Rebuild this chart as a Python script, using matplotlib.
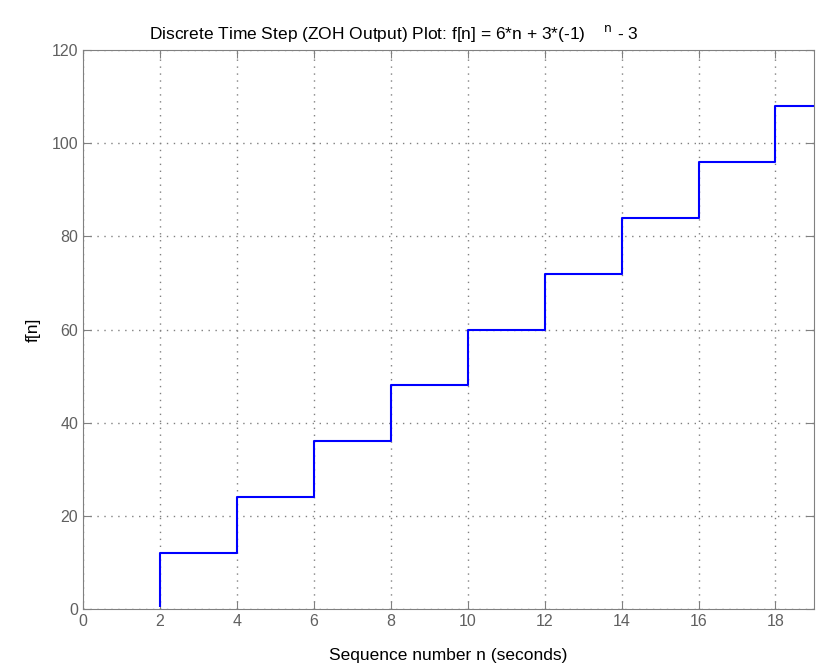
import matplotlib
matplotlib.use("Agg")
import matplotlib.pyplot as plt
from matplotlib.transforms import Bbox, TransformedBbox

# sequence index and f[n] = 6n + 3(-1)^n - 3 values
n = [1, 2, 3, 4, 5, 6, 7, 8, 9, 10, 11, 12, 13, 14, 15, 16, 17, 18, 19]
f = [0, 12, 12, 24, 24, 36, 36, 48, 48, 60, 60, 72, 72, 84, 84, 96, 96, 108, 108]
xticks = [0, 2, 4, 6, 8, 10, 12, 14, 16, 18]
yticks = [0, 20, 40, 60, 80, 100, 120]


def main():
    plt.rcParams['font.family'] = ['Liberation Sans', 'DejaVu Sans']
    fig = plt.figure(figsize=(8.16, 6.65), dpi=100)
    ax = fig.add_axes([0.1017, 0.0842, 0.8958, 0.8406])

    line, = ax.step(n, f, where='post', color='#0000ff', linewidth=1.5)
    # axis line hides the zero-level part of the stairs, as in the original
    line.set_clip_box(TransformedBbox(Bbox([[0, 0.003], [1, 1]]), ax.transAxes))

    ax.set_xlim(0, 19)
    ax.set_ylim(0, 120)
    ax.set_xticks(xticks)
    ax.set_yticks(yticks)
    ax.grid(True, linestyle=(0, (1, 4)), color='#808080', linewidth=1)
    ax.tick_params(direction='in', top=True, right=True, length=6,
                   color='#808080', labelcolor='#606060', labelsize=11.5)
    for s in ax.spines.values():
        s.set_color('#808080')
        s.set_zorder(3)

    ax.set_title("Discrete Time Step (ZOH Output) Plot: f[n] = 6*n + 3*(-1)    $^{\\mathrm{n}}$ - 3",
                 fontsize=12.5, pad=8, x=0.425)
    ax.set_xlabel("Sequence number n (seconds)", fontsize=12.5, labelpad=14)
    ax.set_ylabel("f[n]", fontsize=12.5, labelpad=8)

    fig.savefig("out.png", dpi=100)


if __name__ == "__main__":
    main()
